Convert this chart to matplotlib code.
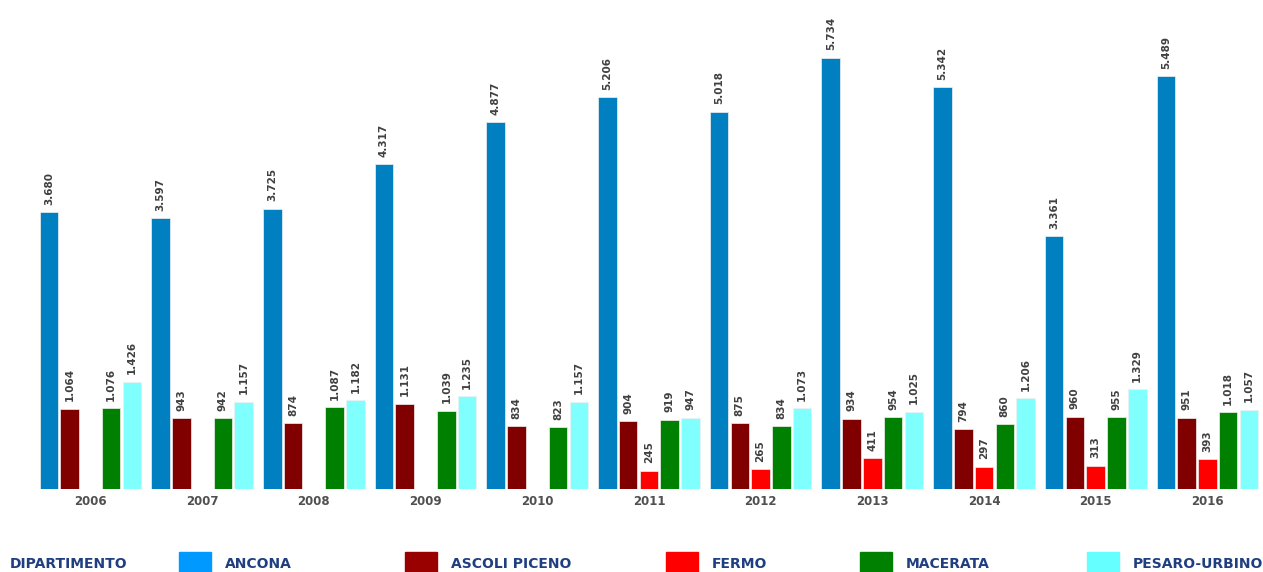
import numpy as np
import matplotlib.pyplot as plt
from matplotlib.patches import Rectangle

# Data
years = ['2006', '2007', '2008', '2009', '2010', '2011', '2012', '2013', '2014', '2015', '2016']
ancona = [3680, 3597, 3725, 4317, 4877, 5206, 5018, 5734, 5342, 3361, 5489]
ascoli = [1064, 943, 874, 1131, 834, 904, 875, 934, 794, 960, 951]
fermo = [None, None, None, None, None, 245, 265, 411, 297, 313, 393]
macerata = [1076, 942, 1087, 1039, 823, 919, 834, 954, 860, 955, 1018]
pesaro = [1426, 1157, 1182, 1235, 1157, 947, 1073, 1025, 1206, 1329, 1057]

series_names = ['ANCONA', 'ASCOLI PICENO', 'FERMO', 'MACERATA', 'PESARO-URBINO']
series_vals = [ancona, ascoli, fermo, macerata, pesaro]
bar_colors = ['#0080C0', '#800000', '#FF0000', '#008000', '#80FFFF']
legend_colors = ['#0099FF', '#990000', '#FF0000', '#008000', '#66FFFF']


def fmt(v):
    # Italian thousand separator
    return f'{v:,}'.replace(',', '.')


fig = plt.figure(figsize=(12.63, 5.72), dpi=100)
ax = fig.add_axes([0.0274, 0.145, 0.9728, 0.855])

x = np.arange(len(years))
pitch = 0.186
width = 0.166
for i, (vals, col) in enumerate(zip(series_vals, bar_colors)):
    offs = (i - 2) * pitch
    for xi, v in zip(x, vals):
        if v is None:
            continue
        ax.bar(xi + offs, v, width=width, color=col, edgecolor='#f0f0f0', linewidth=0.5)
        ax.text(xi + offs, v + 100, fmt(v), rotation=90, ha='center', va='bottom',
                fontsize=7.5, fontweight='bold', color='#404040')

ax.set_xlim(-0.5, len(years) - 0.5)
ax.set_ylim(0, 6500)
ax.set_xticks(x)
ax.set_xticklabels(years, fontsize=8.5, fontweight='bold', color='#505050')
ax.tick_params(axis='x', length=0, pad=4)
ax.set_yticks([])
for s in ax.spines.values():
    s.set_visible(False)

# Legend strip along the bottom
navy = '#1F3F80'
fig.text(10 / 1263, 1 - 564 / 572, 'DIPARTIMENTO', fontsize=10, fontweight='bold',
         color=navy, ha='left', va='center')
patch_x = [179, 405, 666, 860, 1087]
for px, name, col in zip(patch_x, series_names, legend_colors):
    fig.patches.append(Rectangle((px / 1263, 1 - 584 / 572), 32 / 1263, 32 / 572,
                                 transform=fig.transFigure, color=col))
    fig.text((px + 46) / 1263, 1 - 564 / 572, name, fontsize=10, fontweight='bold',
             color=navy, ha='left', va='center')

fig.savefig('out.png', dpi=100)
